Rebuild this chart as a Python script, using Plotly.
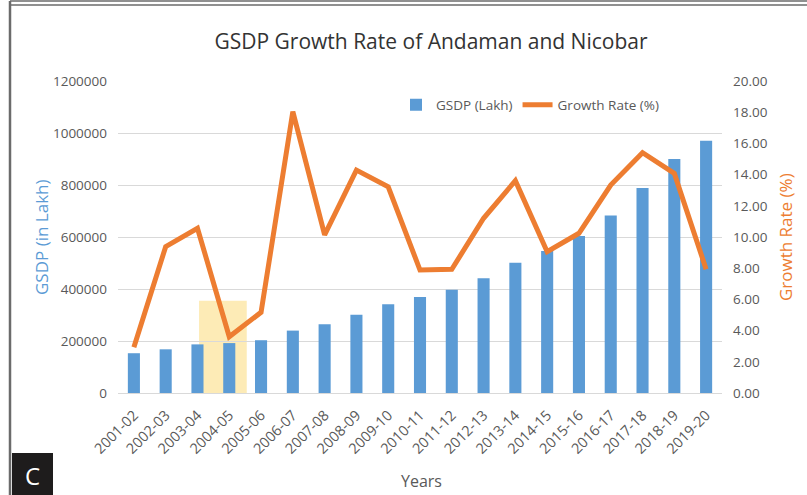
import plotly.graph_objects as go

# Fiscal years
years = ["2001-02", "2002-03", "2003-04", "2004-05", "2005-06", "2006-07", "2007-08",
         "2008-09", "2009-10", "2010-11", "2011-12", "2012-13", "2013-14", "2014-15",
         "2015-16", "2016-17", "2017-18", "2018-19", "2019-20"]

# GSDP in lakh
gsdp = [153000, 168000, 187000, 192000, 203000, 240000, 264000, 301000, 341000, 369000,
        397000, 441000, 501000, 546000, 604000, 683000, 788000, 900000, 970000]

# Annual growth rate (%)
growth = [2.93, 9.38, 10.56, 3.61, 5.17, 18.03, 10.13, 14.29, 13.22, 7.88,
          7.93, 11.20, 13.61, 9.06, 10.24, 13.33, 15.40, 14.08, 7.93]

left_ticks = [0, 200000, 400000, 600000, 800000, 1000000, 1200000]
right_ticks = [0, 2, 4, 6, 8, 10, 12, 14, 16, 18, 20]

highlight_year = "2004-05"

BLUE = "#5B9BD5"
ORANGE = "#ED7D31"
GRAY_TXT = "#595959"
GRID = "#D9D9D9"
FONT = "Open Sans"

W, H = 807, 495
L, R, T, B = 118, 85, 81, 102
pw, ph = W - L - R, H - T - B


def px_x(p):
    return (p - L) / pw


def px_y(p):
    return (H - B - p) / ph


fig = go.Figure()
fig.add_trace(go.Bar(x=years, y=gsdp, name="GSDP (Lakh)", marker_color=BLUE,
                     marker_line_width=0, yaxis="y"))
fig.add_trace(go.Scatter(x=years, y=growth, name="Growth Rate (%)", mode="lines",
                         line=dict(color=ORANGE, width=5), yaxis="y2"))

hi = years.index(highlight_year)
shapes = [
    # highlight band behind the 2004-05 bar
    dict(type="rect", xref="x", yref="y", x0=hi - 0.95, x1=hi + 0.55,
         y0=-7000, y1=355000, fillcolor="#FDEBB6", line_width=0, layer="below"),
    # frame lines
    dict(type="line", xref="paper", yref="paper", x0=px_x(10), x1=px_x(807),
         y0=px_y(1), y1=px_y(1), line=dict(color="#6b6b6b", width=1.5)),
    dict(type="line", xref="paper", yref="paper", x0=px_x(10), x1=px_x(807),
         y0=px_y(5), y1=px_y(5), line=dict(color="#6b6b6b", width=1.5)),
    dict(type="line", xref="paper", yref="paper", x0=px_x(10), x1=px_x(10),
         y0=px_y(1), y1=px_y(495), line=dict(color="#6b6b6b", width=2.5)),
    # panel label box
    dict(type="rect", xref="paper", yref="paper", x0=px_x(12), x1=px_x(53),
         y0=px_y(453), y1=px_y(495), fillcolor="#1e1c1c", line_width=0),
]

annotations = [
    dict(text="C", xref="paper", yref="paper", x=px_x(32.5), y=px_y(475),
         xanchor="center", yanchor="middle", showarrow=False,
         font=dict(family=FONT, size=24, color="white")),
    # axis titles
    dict(text="Years", xref="paper", yref="paper", x=px_x(421), y=px_y(481),
         xanchor="center", yanchor="middle", showarrow=False,
         font=dict(family=FONT, size=16, color=GRAY_TXT)),
    dict(text="GSDP (in Lakh)", xref="paper", yref="paper", x=px_x(41), y=px_y(237),
         xanchor="center", yanchor="middle", textangle=-90, showarrow=False,
         font=dict(family=FONT, size=17, color=BLUE)),
    dict(text="Growth Rate (%)", xref="paper", yref="paper", x=px_x(785), y=px_y(237),
         xanchor="center", yanchor="middle", textangle=-90, showarrow=False,
         font=dict(family=FONT, size=17, color=ORANGE)),
]

fig.update_layout(
    width=W, height=H,
    margin=dict(l=L, r=R, t=T, b=B),
    paper_bgcolor="white", plot_bgcolor="white",
    font=dict(family=FONT, size=13, color=GRAY_TXT),
    title=dict(text="GSDP Growth Rate of Andaman and Nicobar", x=px_x(431), xanchor="center",
               xref="paper", y=1 - 42 / H, yanchor="middle",
               font=dict(family=FONT, size=21, color="#333333")),
    bargap=0.62,
    showlegend=True,
    legend=dict(orientation="h", x=px_x(396), y=px_y(105), xanchor="left", yanchor="middle",
                font=dict(size=13.5, color=GRAY_TXT), bgcolor="rgba(0,0,0,0)",
                traceorder="normal"),
    xaxis=dict(type="category", tickangle=-45, showgrid=False, showline=True,
               linecolor=GRID, linewidth=1, ticks="", ticklabelstandoff=7, automargin=False,
               tickfont=dict(size=14.5, color=GRAY_TXT)),
    yaxis=dict(range=[0, 1200000], tickvals=left_ticks, tickformat="d",
               showgrid=True, gridcolor=GRID, gridwidth=1, zeroline=False, automargin=False,
               ticklabelstandoff=10, tickfont=dict(size=13.5, color=GRAY_TXT)),
    yaxis2=dict(range=[0, 20], tickvals=right_ticks, tickformat=".2f", overlaying="y",
                side="right", showgrid=False, zeroline=False, ticklabelstandoff=10,
                automargin=False, tickfont=dict(size=13.5, color=GRAY_TXT)),
    shapes=shapes,
    annotations=annotations,
)

fig.write_html("out.html")
